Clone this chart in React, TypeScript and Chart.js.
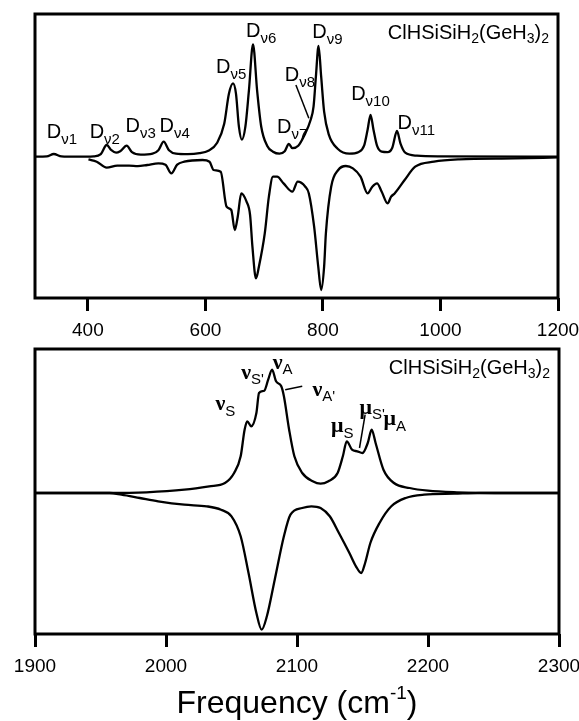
import React, { useEffect, useRef } from "react";
import { Chart, registerables } from "chart.js";
Chart.register(...registerables);

const FONT = '"Liberation Sans", Arial, Helvetica, sans-serif';

// ---------- Top panel (300-1200 cm-1) ----------
const topPosFreq = [310, 330, 342, 355, 380, 410, 422, 432, 440, 448, 455, 466, 475, 490, 510, 520, 529, 538, 550, 570, 590, 605, 620, 632, 640, 647, 652, 657, 662, 668, 674, 681, 688, 695, 705, 715, 726, 735, 742, 748, 758, 768, 779, 784, 788, 792.5, 797, 802, 810, 825, 845, 860, 870, 876, 881, 886, 892, 900, 910, 918, 926, 932, 940, 960, 1000, 1200];
const topPosVal = [0, 0.003, 0.027, 0.003, 0, 0.003, 0.025, 0.117, 0.065, 0.04, 0.055, 0.11, 0.045, 0.02, 0.03, 0.065, 0.15, 0.065, 0.03, 0.025, 0.035, 0.06, 0.14, 0.33, 0.63, 0.733, 0.63, 0.3, 0.17, 0.3, 0.66, 1.123, 0.66, 0.3, 0.11, 0.05, 0.03, 0.055, 0.127, 0.085, 0.11, 0.21, 0.367, 0.5, 0.8, 1.107, 0.8, 0.45, 0.22, 0.08, 0.03, 0.045, 0.11, 0.27, 0.417, 0.27, 0.11, 0.05, 0.045, 0.09, 0.257, 0.13, 0.04, 0.01, 0.003, 0];
const topNegFreq = [401, 415, 432, 450, 470, 485, 501, 520, 532, 542, 552, 564, 595, 607, 614, 626, 636, 644, 650, 655, 661, 670, 676, 680, 686, 691, 701, 708, 715, 722, 733, 748, 757, 770, 776, 785, 792, 797, 802, 805, 814, 826, 839, 851, 864, 876, 884, 892, 900, 910, 916, 922, 939, 957, 989, 1032, 1126, 1200];
const topNegVal = [-0.027, -0.05, -0.11, -0.09, -0.09, -0.095, -0.083, -0.067, -0.08, -0.167, -0.08, -0.05, -0.033, -0.05, -0.133, -0.15, -0.5, -0.533, -0.733, -0.6, -0.367, -0.45, -0.583, -0.9, -1.217, -1.1, -0.767, -0.4, -0.2, -0.2, -0.267, -0.35, -0.25, -0.3, -0.367, -0.7, -1.1, -1.333, -1.1, -0.767, -0.3, -0.133, -0.093, -0.117, -0.2, -0.367, -0.3, -0.267, -0.35, -0.467, -0.4, -0.367, -0.233, -0.1, -0.05, -0.027, -0.017, -0.007];
const topTicks = [400, 600, 800, 1000, 1200];

// ---------- Bottom panel (1900-2300 cm-1) ----------
const botPosFreq = [1900, 1957, 1985, 2014, 2033, 2045, 2052, 2057, 2060, 2062, 2065, 2069, 2071, 2075, 2078, 2081, 2084, 2088, 2090, 2094, 2098, 2104, 2112, 2118, 2124, 2131, 2135, 2138, 2142, 2146, 2150, 2154, 2157, 2160, 2166, 2174, 2186, 2200, 2222, 2251, 2300];
const botPosVal = [0, 0, 0.007, 0.033, 0.067, 0.1, 0.2, 0.367, 0.633, 0.717, 0.667, 0.8, 1.0, 1.023, 1.133, 1.233, 1.117, 1.067, 0.967, 0.633, 0.367, 0.2, 0.117, 0.093, 0.117, 0.2, 0.367, 0.517, 0.433, 0.417, 0.4, 0.5, 0.633, 0.5, 0.233, 0.1, 0.05, 0.023, 0.007, 0, 0];
const botNegFreq = [1900, 1957, 1966, 1980, 1994, 2014, 2031, 2042, 2050, 2057, 2063, 2069, 2073, 2077, 2083, 2090, 2095, 2104, 2111, 2118, 2125, 2132, 2140, 2145, 2149, 2152, 2156, 2163, 2172, 2183, 2197, 2220, 2239, 2300];
const botNegVal = [0, 0, -0.017, -0.05, -0.083, -0.117, -0.133, -0.167, -0.233, -0.433, -0.8, -1.2, -1.367, -1.233, -0.867, -0.433, -0.217, -0.15, -0.133, -0.15, -0.233, -0.4, -0.6, -0.733, -0.8, -0.7, -0.5, -0.3, -0.133, -0.05, -0.017, -0.007, 0, 0];
const botTicks = [1900, 2000, 2100, 2200, 2300];

// ---------- Annotations ----------
const topLabelMain = ["D", "D", "D", "D", "D", "D", "D", "D", "D", "D", "D"];
const topLabelSub = ["ν1", "ν2", "ν3", "ν4", "ν5", "ν6", "ν7", "ν8", "ν9", "ν10", "ν11"];
const topLabelFreq = [330, 403, 464, 522, 618, 669, 722, 735, 782, 848, 927];
const topLabelVal = [0.24, 0.24, 0.3, 0.3, 0.89, 1.25, 0.29, 0.81, 1.24, 0.62, 0.33];
const topLeaders = [[754, 0.717, 776, 0.384]];

const botLabelMain = ["ν", "ν", "ν", "ν", "μ", "μ", "μ"];
const botLabelSub = ["S", "S'", "A", "A'", "S", "S'", "A"];
const botLabelFreq = [2037.7, 2057.4, 2081.4, 2111.8, 2126, 2147.7, 2166];
const botLabelVal = [0.883, 1.2, 1.3, 1.03, 0.666, 0.85, 0.733];
const botLeaders = [[2091, 1.033, 2104, 1.067], [2152, 0.783, 2147.7, 0.45]];

const pts = (xs: number[], ys: number[]) => xs.map((x, i) => ({ x, y: ys[i] }));

const annotPlugin = {
  id: "annot",
  afterDraw(chart: any, _args: any, opts: any) {
    const { ctx, chartArea: a, scales } = chart;
    const xs = scales.x, ys = scales.y;
    ctx.save();
    ctx.lineWidth = 3;
    ctx.strokeStyle = "#000";
    ctx.strokeRect(a.left, a.top, a.right - a.left, a.bottom - a.top);
    ctx.fillStyle = "#000";
    ctx.textAlign = "left";
    ctx.textBaseline = "middle";
    const L = opts.labels;
    for (let i = 0; i < L.main.length; i++) {
      const x = xs.getPixelForValue(L.freq[i]);
      const y = ys.getPixelForValue(L.val[i]);
      ctx.font = L.mainFont;
      ctx.fillText(L.main[i], x, y);
      const w = ctx.measureText(L.main[i]).width;
      ctx.font = L.subFont;
      ctx.fillText(L.sub[i], x + w, y + L.subDy);
    }
    ctx.lineWidth = 1.5;
    for (const l of opts.leaders) {
      ctx.beginPath();
      ctx.moveTo(xs.getPixelForValue(l[0]), ys.getPixelForValue(l[1]));
      ctx.lineTo(xs.getPixelForValue(l[2]), ys.getPixelForValue(l[3]));
      ctx.stroke();
    }
    const segs: [string, boolean][] = [["ClHSiSiH", false], ["2", true], ["(GeH", false], ["3", true], [")", false], ["2", true]];
    const big = "20px " + FONT, small = "14px " + FONT;
    let total = 0;
    for (const [t, s] of segs) { ctx.font = s ? small : big; total += ctx.measureText(t).width; }
    let tx = a.right - 9 - total;
    const ty = a.top + 19;
    for (const [t, s] of segs) {
      ctx.font = s ? small : big;
      ctx.fillText(t, tx, s ? ty + 6 : ty);
      tx += ctx.measureText(t).width;
    }
    if (opts.xTitle) {
      const mainF = "32px " + FONT, supF = "19px " + FONT;
      ctx.textBaseline = "alphabetic";
      const parts: [string, boolean][] = [["Frequency (cm", false], ["-1", true], [")", false]];
      let tw = 0;
      for (const [t, s] of parts) { ctx.font = s ? supF : mainF; tw += ctx.measureText(t).width; }
      let px = (a.left + a.right) / 2 - tw / 2;
      const py = opts.xTitleY;
      for (const [t, s] of parts) {
        ctx.font = s ? supF : mainF;
        ctx.fillText(t, px, s ? py - 14 : py);
        px += ctx.measureText(t).width;
      }
    }
    ctx.restore();
  },
};

function makeConfig(p: any) {
  return {
    type: "line",
    data: {
      datasets: [
        { data: pts(p.posF, p.posV), borderColor: "#000", borderWidth: 2.3, pointRadius: 0, cubicInterpolationMode: "monotone", fill: false },
        { data: pts(p.negF, p.negV), borderColor: "#000", borderWidth: 2.3, pointRadius: 0, cubicInterpolationMode: "monotone", fill: false },
      ],
    },
    options: {
      animation: false,
      responsive: false,
      maintainAspectRatio: false,
      layout: { padding: p.padding },
      plugins: {
        legend: { display: false },
        tooltip: { enabled: false },
        annot: { labels: p.labels, leaders: p.leaders, xTitle: p.xTitle, xTitleY: p.xTitleY },
      },
      scales: {
        x: {
          type: "linear",
          min: p.min,
          max: p.max,
          afterBuildTicks: (axis: any) => { axis.ticks = p.ticks.map((v: number) => ({ value: v })); },
          afterFit: (axis: any) => {
            axis.height = p.axisH;
            axis.paddingLeft = 0;
            axis.paddingRight = 0;
          },
          border: { display: false },
          grid: { display: true, drawOnChartArea: false, drawTicks: true, tickLength: 13, tickWidth: 3, tickColor: "#000" },
          ticks: { color: "#000", font: { family: FONT, size: 19 }, padding: 8, maxRotation: 0, autoSkip: false, callback: (v: any) => String(v) },
        },
        y: { display: false, min: p.ymin, max: p.ymax },
      },
    },
    plugins: [annotPlugin],
  } as any;
}

function Panel(props: { cfg: any; top: number; height: number }) {
  const ref = useRef<HTMLCanvasElement>(null);
  useEffect(() => {
    const chart = new Chart(ref.current as HTMLCanvasElement, props.cfg);
    return () => chart.destroy();
  }, []);
  return (
    <canvas ref={ref} width={579} height={props.height}
      style={{ position: "absolute", left: 0, top: props.top, width: 579, height: props.height }} />
  );
}

export default function App() {
  const topCfg = makeConfig({
    posF: topPosFreq, posV: topPosVal, negF: topNegFreq, negV: topNegVal,
    min: 310, max: 1200, ticks: topTicks, ymin: -1.413, ymax: 1.427,
    padding: { top: 14, left: 35, right: 21, bottom: 0 }, axisH: 47,
    labels: { main: topLabelMain, sub: topLabelSub, freq: topLabelFreq, val: topLabelVal, mainFont: "20px " + FONT, subFont: "15px " + FONT, subDy: 7 },
    leaders: topLeaders,
  });
  const botCfg = makeConfig({
    posF: botPosFreq, posV: botPosVal, negF: botNegFreq, negV: botNegVal,
    min: 1900, max: 2300, ticks: botTicks, ymin: -1.41, ymax: 1.44,
    padding: { top: 4, left: 35, right: 20, bottom: 0 }, axisH: 87,
    labels: { main: botLabelMain, sub: botLabelSub, freq: botLabelFreq, val: botLabelVal, mainFont: 'bold 22px "Liberation Serif", serif', subFont: "15px " + FONT, subDy: 7 },
    leaders: botLeaders, xTitle: true, xTitleY: 368,
  });
  return (
    <div style={{ position: "absolute", left: 0, top: 0, width: 579, height: 721, background: "#fff" }}>
      <Panel cfg={topCfg} top={0} height={345} />
      <Panel cfg={botCfg} top={345} height={376} />
    </div>
  );
}
